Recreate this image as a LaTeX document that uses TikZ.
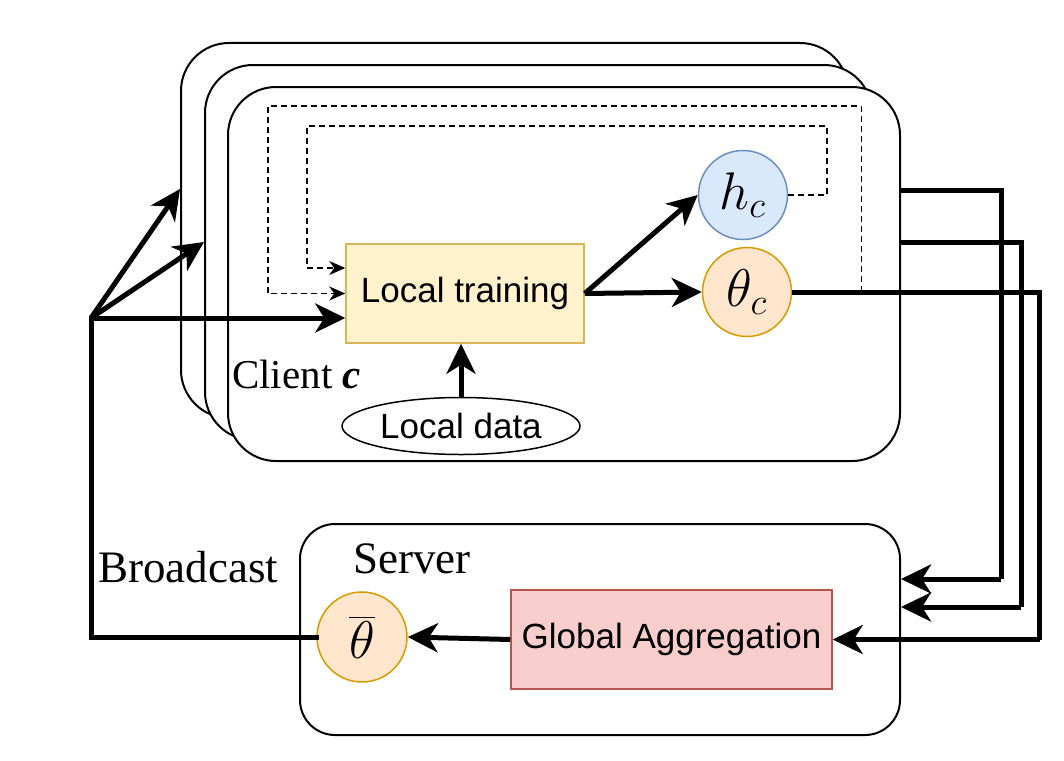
\RequirePackage{fix-cm}
\documentclass[tikz,border=0pt]{standalone}
\usepackage{fontspec}
\setmainfont{Liberation Serif}
\setsansfont{Liberation Sans}
\usetikzlibrary{arrows.meta,calc,positioning,shapes.geometric}

\definecolor{trainfill}{HTML}{FFF2CC}
\definecolor{trainline}{HTML}{D6B656}
\definecolor{hfill}{HTML}{DAE8FC}
\definecolor{hline}{HTML}{6C8EBF}
\definecolor{pfill}{HTML}{FFE6CC}
\definecolor{pline}{HTML}{D79B00}
\definecolor{aggfill}{HTML}{F8CECC}
\definecolor{aggline}{HTML}{B85450}

\newcommand{\pvar}[1]{\scalebox{2.65}{$#1$}}

\begin{document}
\begin{tikzpicture}[x=1pt,y=-1pt,
big arrow/.style={-{Stealth[length=30pt,width=29pt,inset=9pt]},line width=5pt},
dash arrow/.style={-{Stealth[length=16pt,width=14pt,inset=5pt]},line width=1.5pt,dash pattern=on 6pt off 4pt},
client box/.style={draw,line width=2pt,fill=white,rounded corners=48pt,minimum width=667pt,minimum height=375pt},
main box/.style={draw,line width=1.5pt,minimum width=238pt,minimum height=99pt,font=\sffamily\fontsize{35}{42}\selectfont},
param node/.style={circle,draw,line width=1.5pt,minimum size=89pt,inner sep=0pt,font=\fontsize{20}{24}\selectfont},
label text/.style={anchor=base west,inner sep=0pt,font=\fontsize{45}{52}\selectfont}]

\useasboundingbox (0,0) rectangle (1064,760);

% server
\node[draw,line width=2pt,fill=white,rounded corners=35pt,minimum width=600pt,minimum height=211pt] (srv) at (600,629.5) {};
\node[label text] (srvlab) at (353,573) {Server};

% stacked clients
\node[client box] (card1) at (514.5,230.5) {};
\draw[line width=5pt] ($(card1.north east)+(0,148)$) -| ($(srv.north east)+(100,56)$)
  edge[big arrow] ($(srv.north east)+(0,56)$);
\node[client box] (card2) at (538.5,252.5) {};
\draw[line width=5pt] ($(card2.north east)+(0,178)$) -| ($(srv.north east)+(120,84)$)
  edge[big arrow] ($(srv.north east)+(0,84)$);
\node[client box,minimum width=672pt,minimum height=374pt] (card3) at (564,274) {};

\node[main box,fill=trainfill,draw=trainline] (lt) at (465,293.5) {Local training};
\node[param node,fill=hfill,draw=hline] (hc) at (743,195) {\pvar{h_c}};
\node[param node,fill=pfill,draw=pline] (thc) at (747,292) {\pvar{\theta_c}};
\node[ellipse,draw,line width=1.5pt,inner sep=0pt,minimum width=238pt,minimum height=57pt,
  font=\sffamily\fontsize{35}{42}\selectfont] (ld) at (461,426) {Local data};
\node[label text,font=\fontsize{41}{48}\selectfont] (clab) at (232,388) {Client \textbf{\textit{c}}};

\node[main box,fill=aggfill,draw=aggline,minimum width=321pt] (ga) at (671.5,639.5) {Global Aggregation};
\node[param node,fill=pfill,draw=pline,minimum size=90pt] (tbar) at (362,637) {\pvar{\overline{\theta}}};
\node[label text] (blab) at (98,582) {Broadcast};

\coordinate (hub) at (91,318);
\coordinate (tap) at ($(thc.east)+(69,0)$);
\coordinate (dol) at (268,106);
\coordinate (dir) at (827,126);
\coordinate (dil) at (307,126);

% local flow
\draw[big arrow] (ld.north) -- (ld.north |- lt.south);
\draw[big arrow] (lt.east) -- (hc.west);
\draw[big arrow] (lt.east) -- (thc.west);
\draw[line width=5pt] (thc.east) -| ($(ga.east)+(207,0)$) edge[big arrow] (ga.east);

% feedback of h and theta
\draw[dash arrow] (tap) |- (dol) |- (lt.west);
\draw[dash arrow] (hc.east) -| (dir) -- (dil) |- ($(lt.west)+(0,-25.5)$);

% broadcast
\draw[big arrow] (ga.west) -- (tbar.east);
\draw[line width=5pt,line cap=rect] (tbar.west) -| (hub);
\draw[big arrow] (hub) -- ($(card1.north west)+(0,147)$);
\draw[big arrow] (hub) -- ($(card2.north west)+(0,178)$);
\draw[big arrow] (hub) -- (hub -| lt.west);

\end{tikzpicture}
\end{document}
